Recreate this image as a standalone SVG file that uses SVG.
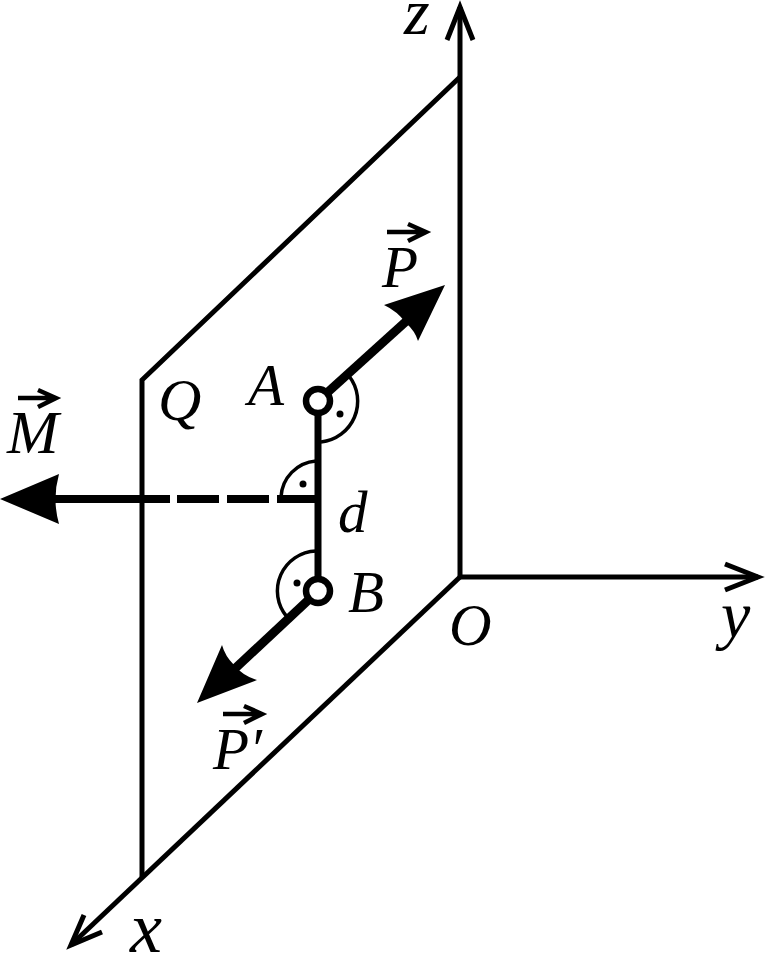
<svg xmlns="http://www.w3.org/2000/svg" width="765" height="954" viewBox="0 0 765 954">
<style>
.t{font-family:"Liberation Serif","Times New Roman",serif;font-style:italic;font-size:59px;fill:#000}
.lc{font-size:66px}
.l{fill:none;stroke:#000;stroke-width:5;stroke-miterlimit:10}
.h{fill:#000;stroke:none}
.arc{fill:none;stroke:#000;stroke-width:3.5}
.v{fill:none;stroke:#000;stroke-width:4.5;stroke-miterlimit:10}
.n{fill:#fff;stroke:#000;stroke-width:6.5}
</style>
<rect width="765" height="954" fill="#fff"/>
<g id="connectors">
<path class="l" d="M460 77L142 380V877"/>
<path class="l" d="M460 577V7"/>
<path class="l" d="M447 40L460 7L473 40"/>
<path class="l" d="M460 577H758"/>
<path class="l" d="M725 564L758 577L725 590"/>
<path class="l" d="M460 577L71 945"/>
<path class="l" d="M84 915L71 945L102 932"/>
<path class="l" d="M318 401V591" style="stroke-width:7"/>
<path class="l" d="M318 401L412 316" style="stroke-width:9"/>
<path class="h" d="M445 285L384 305Q397 311 406 323Q415 331 418 341Z"/>
<path class="l" d="M318 591L226 677" style="stroke-width:9"/>
<path class="h" d="M197 703L257 680Q243 676 234 665Q225 656 222 645Z"/>
<path class="l" d="M50 499H170M177 499H219M227 499H269M277 499H318" style="stroke-width:8"/>
<path class="h" d="M0 499L59 474Q52 499 59 524Z"/>
<path class="arc" d="M349 376A41 41 0 0 1 321 442"/>
<path class="arc" d="M281 497A38 38 0 0 1 316 461"/>
<path class="arc" d="M316 551A40 40 0 0 0 287 617"/>
</g>
<g id="dots">
<circle class="h" cx="340" cy="414" r="3.5"/>
<circle class="h" cx="303" cy="484" r="3.5"/>
<circle class="h" cx="297" cy="583" r="3.5"/>
</g>
<g id="node-A"><circle class="n" cx="318" cy="401" r="12"/><text class="t" x="248" y="405">A</text></g>
<g id="node-B"><circle class="n" cx="318" cy="591" r="12"/><text class="t" x="348" y="612">B</text></g>
<g id="label-Q"><text class="t" x="158" y="420" style="font-size:60px">Q</text></g>
<g id="label-d"><text class="t" x="338" y="532">d</text></g>
<g id="label-z"><text class="t lc" x="404" y="34">z</text></g>
<g id="label-x"><text class="t" x="130" y="952" style="font-size:72px">x</text></g>
<g id="label-y"><text class="t lc" x="721" y="637">y</text></g>
<g id="label-O"><text class="t" x="449" y="645">O</text></g>
<g id="label-M"><text class="t" x="7" y="453" style="font-size:62px">M</text><path class="v" d="M18 398H54M38 390L56 398L38 407"/></g>
<g id="label-P"><text class="t" x="382" y="287">P</text><path class="v" d="M387 232H423M408 224L426 232L408 241"/></g>
<g id="label-P-prime"><text class="t" x="213" y="769">P′</text><path class="v" d="M223 714H259M244 706L262 714L244 723"/></g>
</svg>
